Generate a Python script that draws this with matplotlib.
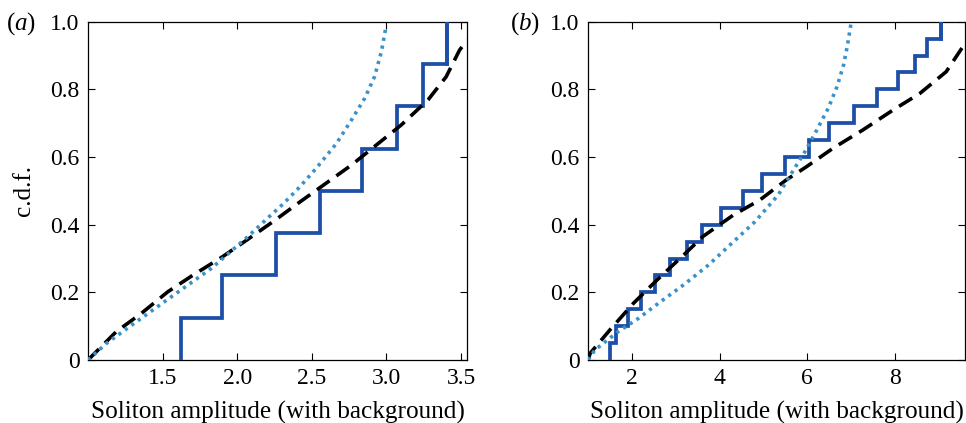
import numpy as np
import matplotlib
matplotlib.use("Agg")
import matplotlib.pyplot as plt

plt.rcParams['font.family'] = ['Liberation Serif', 'DejaVu Serif']
plt.rcParams['mathtext.fontset'] = 'custom'
plt.rcParams['mathtext.it'] = 'Liberation Serif:italic'
plt.rcParams['mathtext.rm'] = 'Liberation Serif'

# panel (a): empirical cdf steps (8 samples) and two model cdfs
a_steps = [1.626, 1.896, 2.262, 2.557, 2.834, 3.073, 3.245, 3.406]
a_dot_x = [1.0, 1.123, 1.302, 1.559, 1.827, 2.072, 2.23, 2.307, 2.42, 2.53,
           2.665, 2.765, 2.855, 2.92, 2.966, 2.995]
a_dot_y = [0.0, 0.049, 0.106, 0.187, 0.271, 0.365, 0.43, 0.461, 0.512, 0.567,
           0.64, 0.709, 0.774, 0.837, 0.911, 0.98]
a_dash_x = [1.0, 1.19, 1.358, 1.536, 1.704, 1.894, 2.072, 2.24, 2.407, 2.765,
            3.1, 3.279, 3.4, 3.49, 3.54]
a_dash_y = [0.0, 0.084, 0.138, 0.202, 0.251, 0.303, 0.357, 0.409, 0.463, 0.576,
            0.695, 0.769, 0.837, 0.916, 0.945]

# panel (b): empirical cdf steps (20 samples) and two model cdfs
b_steps = [1.51, 1.63, 1.91, 2.20, 2.53, 2.87, 3.25, 3.60, 4.04, 4.53,
           4.97, 5.49, 6.03, 6.50, 7.07, 7.59, 8.07, 8.47, 8.74, 9.06]
b_dot_x = [1.0, 1.16, 1.69, 2.15, 2.61, 3.18, 3.75, 4.28, 4.81, 5.34, 5.69,
           5.95, 6.22, 6.48, 6.68, 6.83, 6.92, 7.0]
b_dot_y = [0.0, 0.03, 0.084, 0.123, 0.168, 0.222, 0.281, 0.345, 0.409, 0.488,
           0.562, 0.616, 0.68, 0.744, 0.808, 0.872, 0.931, 0.995]
b_dash_x = [1.0, 1.05, 1.50, 2.04, 2.57, 3.22, 3.62, 4.31, 4.92, 5.52, 5.98,
            6.59, 7.27, 7.96, 8.57, 9.17, 9.55, 9.6]
b_dash_y = [0.0, 0.02, 0.089, 0.168, 0.236, 0.315, 0.365, 0.428, 0.473, 0.532,
            0.571, 0.626, 0.68, 0.739, 0.788, 0.852, 0.926, 0.94]

step_col = '#1d4fa6'
dot_col = '#3a92c9'

fig = plt.figure(figsize=(9.66, 4.23), dpi=100)
ax1 = fig.add_axes([88 / 966, 1 - 360 / 423, 379 / 966, 338.3 / 423])
ax2 = fig.add_axes([588 / 966, 1 - 360 / 423, 377 / 966, 338.3 / 423])


def draw_panel(ax, steps, dot_x, dot_y, dash_x, dash_y, xlim):
    n = len(steps)
    sx = [steps[0]] + list(steps)
    sy = [0.0] + [(i + 1) / n for i in range(n)]
    ax.step(sx, sy, where='post', color=step_col, lw=2.7, zorder=3,
            solid_joinstyle='miter')
    ax.plot([steps[-1], steps[-1]], [sy[-2], 1.0], color=step_col, lw=2.7, zorder=3)
    ax.plot(dash_x, dash_y, color='black', lw=2.6, dashes=(4.3, 2.3), zorder=4)
    ax.plot(dot_x, dot_y, color=dot_col, lw=2.6, dashes=(0.9, 1.3), zorder=5)
    ax.set_xlim(*xlim)
    ax.set_ylim(0, 1)
    ax.set_yticks([0, 0.2, 0.4, 0.6, 0.8, 1.0])
    ax.set_yticklabels(['0', '0.2', '0.4', '0.6', '0.8', '1.0'])
    ax.tick_params(direction='in', top=True, right=True, length=5, width=0.8,
                   labelsize=17, pad=6)
    for s in ax.spines.values():
        s.set_linewidth(0.9)
    ax.set_xlabel('Soliton amplitude (with background)', fontsize=18.2, labelpad=8)


draw_panel(ax1, a_steps, a_dot_x, a_dot_y, a_dash_x, a_dash_y, (1.0, 3.54))
ax1.set_xticks([1.5, 2.0, 2.5, 3.0, 3.5])
ax1.set_xticklabels(['1.5', '2.0', '2.5', '3.0', '3.5'])
ax1.set_ylabel('c.d.f.', fontsize=18.2, labelpad=11)

draw_panel(ax2, b_steps, b_dot_x, b_dot_y, b_dash_x, b_dash_y, (1.0, 9.6))
ax2.set_xticks([2, 4, 6, 8])

fig.text(6 / 966, 1 - 30 / 423, r'($a$)', fontsize=18, ha='left', va='baseline')
fig.text(510 / 966, 1 - 30 / 423, r'($b$)', fontsize=18, ha='left', va='baseline')

fig.savefig('out.png', dpi=100)
